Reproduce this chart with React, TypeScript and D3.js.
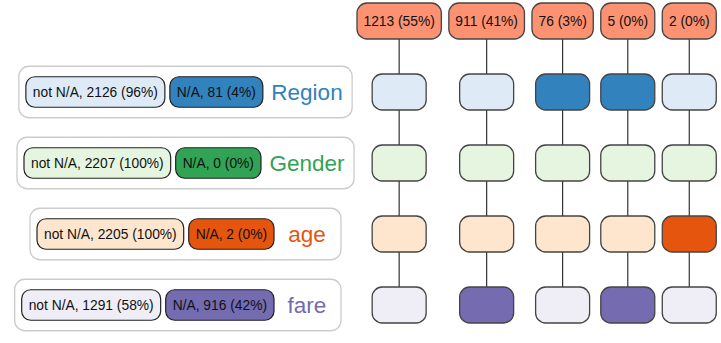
import React from "react";
import * as d3 from "d3";

// counts
const TOTAL = 2207;
const variables = ["Region", "Gender", "age", "fare"];
const naCounts = [81, 0, 2, 916];
const palettes = [d3.schemeBlues[3], d3.schemeGreens[3], d3.schemeOranges[3], d3.schemePurples[3]];

// missingness patterns (columns): count and which variable is N/A
const patternCounts = [1213, 911, 76, 5, 2];
const patternMissing = [
  [false, false, false, false],
  [false, false, false, true],
  [true, false, false, false],
  [true, false, false, true],
  [false, false, true, false],
];

const W = 721;
const H = 343;
const FONT = "'Liberation Sans', Arial, sans-serif";
const SMALL = 13.8;
const BIG = 22.5;

const ctx = document.createElement("canvas").getContext("2d")!;
const measure = (s: string, size: number) => {
  ctx.font = `${size}px 'Liberation Sans'`;
  return ctx.measureText(s).width;
};
const pct = (n: number) => Math.round((100 * n) / TOTAL);

const App = () => {
  const rows = ["header", ...variables];
  const y = d3.scalePoint().domain(rows).range([21, 305]);

  // column positions follow the header widths
  const headerLabels = patternCounts.map((c) => `${c} (${pct(c)}%)`);
  const nodeW = 54;
  const nodeH = 36;
  const gap = 7.5;
  const colW = headerLabels.map((t) => Math.max(measure(t, SMALL) + 13, nodeW));
  const colX: number[] = [];
  let acc = 357;
  colW.forEach((w) => {
    colX.push(acc + w / 2);
    acc += w + gap;
  });

  const labelCx = 307;
  const boxH = 30.5;
  const panelH = 51.5;

  return (
    <svg
      width={W}
      height={H}
      style={{ position: "absolute", left: 0, top: 0, fontFamily: FONT }}
    >
      {/* left legend panels */}
      {variables.map((v, i) => {
        const cy = y(v)!;
        const na = naCounts[i];
        const notTxt = `not N/A, ${TOTAL - na} (${pct(TOTAL - na)}%)`;
        const naTxt = `N/A, ${na} (${pct(na)}%)`;
        const half = Math.max(measure(v, BIG) / 2, 24.5);
        const naW = measure(naTxt, SMALL) + 14;
        const notW = measure(notTxt, SMALL) + 14;
        const naRight = labelCx - half - 8.5;
        const naLeft = naRight - naW;
        const notLeft = naLeft - 5 - notW;
        const pLeft = notLeft - 7;
        const pRight = labelCx + half + 9.5;
        return (
          <g key={v}>
            <rect
              x={pLeft}
              y={cy - panelH / 2}
              width={pRight - pLeft}
              height={panelH}
              rx={10}
              fill="#fff"
              stroke="#cccccc"
              strokeWidth={1.3}
            />
            <rect x={notLeft} y={cy - boxH / 2} width={notW} height={boxH} rx={9}
              fill={palettes[i][0]} stroke="#222" strokeWidth={1.2} />
            <text x={notLeft + notW / 2} y={cy} dy="0.36em" textAnchor="middle" fontSize={SMALL} fill="#111">
              {notTxt}
            </text>
            <rect x={naLeft} y={cy - boxH / 2} width={naW} height={boxH} rx={9}
              fill={palettes[i][2]} stroke="#222" strokeWidth={1.2} />
            <text x={naLeft + naW / 2} y={cy} dy="0.36em" textAnchor="middle" fontSize={SMALL} fill="#111">
              {naTxt}
            </text>
            <text x={labelCx} y={cy} dy="0.36em" textAnchor="middle" fontSize={BIG} fill={palettes[i][2]}>
              {v}
            </text>
          </g>
        );
      })}

      {/* connecting lines */}
      {colX.map((cx, j) => (
        <line key={`l${j}`} x1={cx} x2={cx} y1={y("header")!} y2={y(variables[variables.length - 1])!}
          stroke="#333" strokeWidth={1.2} />
      ))}

      {/* header boxes */}
      {headerLabels.map((t, j) => {
        const w = Math.max(measure(t, SMALL) + 13, nodeW);
        const cy = y("header")!;
        return (
          <g key={`h${j}`}>
            <rect x={colX[j] - w / 2} y={cy - nodeH / 2} width={w} height={nodeH} rx={10}
              fill={d3.schemeReds[3][1]} stroke="#444" strokeWidth={1.3} />
            <text x={colX[j]} y={cy} dy="0.36em" textAnchor="middle" fontSize={SMALL} fill="#111">
              {t}
            </text>
          </g>
        );
      })}

      {/* pattern nodes */}
      {patternMissing.map((miss, j) =>
        variables.map((v, i) => (
          <rect
            key={`n${j}-${i}`}
            x={colX[j] - nodeW / 2}
            y={y(v)! - nodeH / 2}
            width={nodeW}
            height={nodeH}
            rx={10}
            fill={miss[i] ? palettes[i][2] : palettes[i][0]}
            stroke="#444"
            strokeWidth={1.3}
          />
        ))
      )}
    </svg>
  );
};

export default App;
